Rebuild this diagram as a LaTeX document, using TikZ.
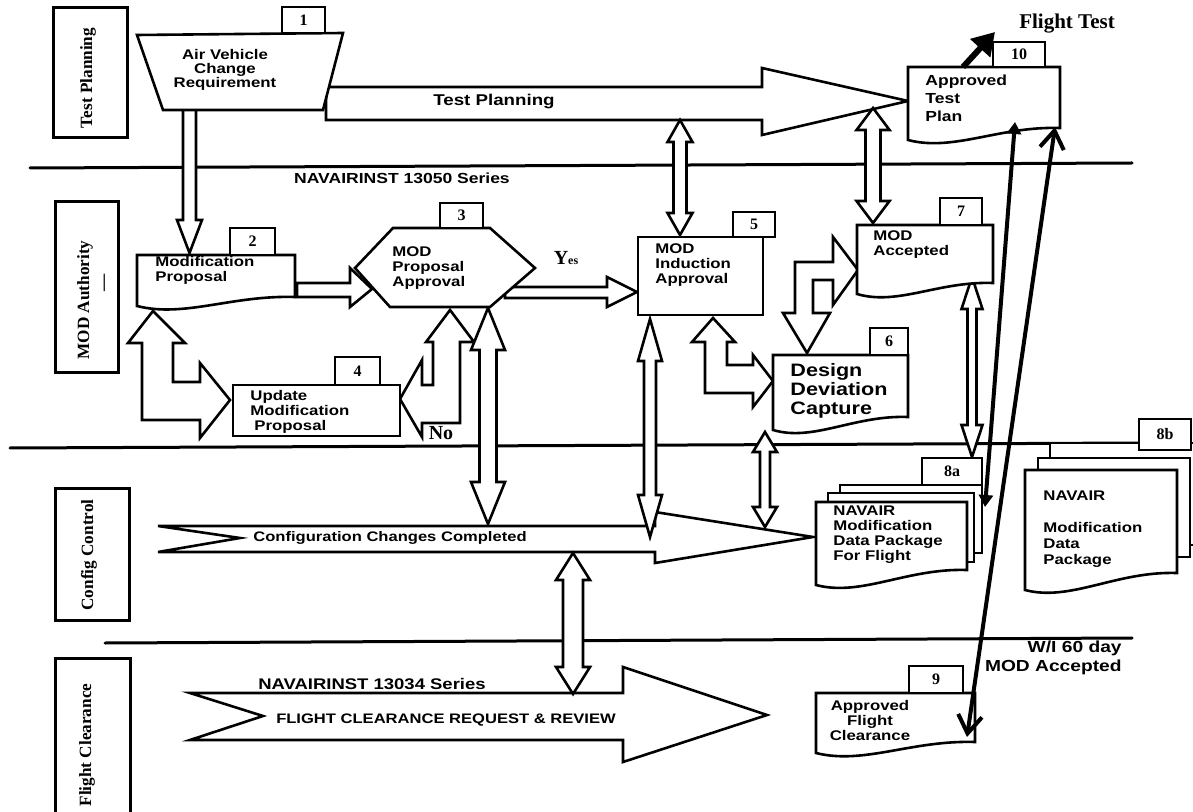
\documentclass[tikz,border=0pt]{standalone}
\usepackage{fontspec}
\setmainfont{Liberation Serif}
\newfontfamily\bxf[FakeStretch=1.2]{Liberation Sans}
\usetikzlibrary{arrows.meta}

\tikzset{
  ln/.style={line width=1.5pt, line cap=round},
  blk/.style={draw, line width=1.3pt, fill=white, line join=miter},
  doc/.style={draw, line width=1.3pt, fill=white},
  tabb/.style={draw, line width=1.3pt, fill=white},
  tabtxt/.style={font=\bfseries\fontsize{8}{8}\selectfont, inner sep=0pt},
  bt/.style={font=\bxf\bfseries\fontsize{7}{7.5}\selectfont, align=left, inner sep=0pt},
  lbl/.style={font=\bxf\bfseries\fontsize{7}{7}\selectfont, inner sep=0pt},
  lane/.style={font=\bfseries\fontsize{8.6}{9}\selectfont, rotate=90, inner sep=0pt},
  srf/.style={font=\bfseries\fontsize{10}{10}\selectfont, inner sep=0pt},
}

\newcommand\docbox[5]{% L T R yr yl
  \draw[doc] (#1,#2) -- (#3,#2) -- (#3,#4) .. controls ({#1+0.6*(#3-#1)},{#4-2}) and ({#1+0.3*(#3-#1)},{#5+12}) .. (#1,#5) -- cycle;}
\newcommand\tabbox[6]{%
  \draw[tabb] (#1,#2) rectangle (#3,#4);
  \node[tabtxt] (#5) at ({(#1+#3)/2},{(#2+#4)/2}) {#6};}
\newcommand\vdarr[6]{% x ytop ybot shafthalf headhalf headlen
  \draw[blk] (#1,#2) -- ({#1+#5},{#2+#6}) -- ({#1+#4},{#2+#6}) -- ({#1+#4},{#3-#6}) -- ({#1+#5},{#3-#6}) -- (#1,#3) -- ({#1-#5},{#3-#6}) -- ({#1-#4},{#3-#6}) -- ({#1-#4},{#2+#6}) -- ({#1-#5},{#2+#6}) -- cycle;}

\begin{document}
\begin{tikzpicture}[x=0.5pt,y=-0.5pt]
\useasboundingbox (0,0) rectangle (1193,812);
\fill[white] (0,0) rectangle (1193,812);

% ---------------- lane labels
\draw[ln] (53,8) rectangle (127,138);
\node[lane] (lTP) at (88,78) {Test Planning};
\draw[ln] (55,202) rectangle (118,373);
\node[lane] (lMA) at (85,300) {MOD Authority};
\node[lane] (lMAd) at (106,283) {—};
\draw[ln] (55,488) rectangle (129,620);
\node[lane] (lCC) at (89,555) {Config Control};
\draw[ln] (55,658) rectangle (130,830);
\node[lane] (lFC) at (87,745) {Flight Clearance};

% ---------------- lane lines
\draw[ln] (30,168) -- (1132,163);
\draw[ln] (10,448) -- (1139,443);
\draw[ln] (105,643) -- (1132,638);

% ---------------- big arrows
\draw[blk] (326,87) -- (762,87) -- (762,68) -- (908,101) -- (762,135) -- (762,120) -- (326,120) -- cycle;
\node[lbl, font=\bxf\bfseries\fontsize{7.8}{7.8}\selectfont] (tpl) at (494,102) {Test Planning};

\draw[blk] (158,526) -- (655,526) -- (655,512) -- (813,537) -- (655,563) -- (655,552) -- (158,552) -- (240,538) -- cycle;
\node[lbl, font=\bxf\bfseries\fontsize{6.9}{6.9}\selectfont] (ccc) at (390,538) {Configuration Changes Completed};

\draw[blk] (190,693) -- (623,693) -- (623,667) -- (767,715) -- (623,762) -- (623,740) -- (190,740) -- (263,716) -- cycle;
\node[lbl, font=\bxf\bfseries\fontsize{6.9}{6.9}\selectfont] (fcr) at (446,720) {FLIGHT CLEARANCE REQUEST \& REVIEW};
\node[lbl, font=\bxf\bfseries\fontsize{7.7}{7.7}\selectfont] (nav2) at (372,684) {NAVAIRINST 13034 Series};
\node[lbl, font=\bxf\bfseries\fontsize{7.3}{7.3}\selectfont] (nav1) at (402,178) {NAVAIRINST 13050 Series};

% ---------------- single block arrows
\draw[blk] (183,108) -- (183,220) -- (177,220) -- (189.5,253) -- (202,220) -- (196,220) -- (196,108) -- cycle;
\draw[blk] (297,283) -- (350,283) -- (350,268) -- (372,289) -- (350,307) -- (350,297) -- (297,297) -- cycle;
\draw[blk] (505,287) -- (607,287) -- (607,277) -- (637,292) -- (607,307) -- (607,298) -- (505,298) -- cycle;

% ---------------- elbow block arrows
\draw[blk] (153,311) -- (185,343) -- (173,343) -- (173,382) -- (200,382) -- (200,363) -- (230,400) -- (200,438) -- (200,420) -- (142,420) -- (142,343) -- (128,343) -- cycle;
\draw[blk] (450,310) -- (474,342) -- (460,342) -- (460,423) -- (422,423) -- (422,437) -- (400,399) -- (422,360) -- (422,385) -- (433,385) -- (433,342) -- (426,342) -- cycle;
\draw[blk] (713,318) -- (735,342) -- (727,342) -- (727,365) -- (753,365) -- (753,355) -- (773,381) -- (753,407) -- (753,393) -- (705,393) -- (705,342) -- (692,342) -- cycle;
\draw[blk] (858,270) -- (833,237) -- (833,262) -- (795,262) -- (795,313) -- (783,313) -- (807,353) -- (830,313) -- (813,313) -- (813,280) -- (833,280) -- (833,305) -- cycle;

% ---------------- vertical double block arrows
\vdarr{680}{120}{235}{6.5}{12.5}{22}
\vdarr{873}{108}{223}{7.5}{16.5}{22}
\vdarr{488}{308}{524}{8.5}{17}{42}
\vdarr{650}{319}{537}{6}{12}{42}
\vdarr{765}{432}{527}{5}{12}{20}
\vdarr{972}{277}{457}{4.5}{10.5}{32}
\vdarr{573}{553}{694}{10}{17}{27}

% ---------------- boxes
% 1
\draw[doc] (137,35) -- (343,33) -- (323,110) -- (163,110) -- cycle;
\tabbox{282}{7}{325}{33}{t1}{1}
\node[bt, align=center, font=\bxf\bfseries\fontsize{7}{7}\selectfont] (b1) at (225,70) {Air Vehicle\\Change\\Requirement};
% 2
\docbox{137}{255}{295}{297}{306}
\tabbox{230}{228}{275}{255}{t2}{2}
\node[bt, anchor=west] (b2) at (155,270) {Modification\\Proposal};
% 3
\draw[doc] (355,268) -- (393,228) -- (490,228) -- (535,268) -- (490,307) -- (390,307) -- cycle;
\tabbox{440}{203}{483}{228}{t3}{3}
\node[bt, anchor=west] (b3) at (392,268) {MOD\\Proposal\\Approval};
% 4
\draw[doc] (233,385) rectangle (400,436);
\tabbox{335}{357}{380}{385}{t4}{4}
\node[bt, anchor=west] (b4) at (250,412) {Update\\Modification\\\hspace{2pt}Proposal};
% 5
\draw[doc] (638,237) rectangle (763,315);
\tabbox{733}{212}{775}{237}{t5}{5}
\node[bt, anchor=west] (b5) at (655,265) {MOD\\Induction\\Approval};
% 6
\docbox{773}{355}{908}{417}{430}
\tabbox{870}{328}{908}{355}{t6}{6}
\node[bt, anchor=west, font=\bxf\bfseries\fontsize{9}{9.5}\selectfont] (b6) at (790,391) {Design\\Deviation\\Capture};
% 7
\docbox{857}{225}{993}{283}{294}
\tabbox{940}{198}{982}{225}{t7}{7}
\node[bt, anchor=west] (b7) at (873,245) {MOD\\Accepted};
% 10
\docbox{908}{67}{1060}{128}{140}
\tabbox{993}{42}{1045}{67}{t10}{10}
\node[bt, anchor=west, font=\bxf\bfseries\fontsize{7.3}{9}\selectfont] (b10) at (925,98) {Approved\\Test\\Plan};
% 8a
\draw[doc] (840,485) rectangle (982,553);
\draw[doc] (828,493) rectangle (974,562);
\docbox{816}{502}{967}{570}{585}
\tabbox{922}{458}{982}{485}{t8a}{8a}
\node[bt, anchor=west] (b8a) at (833,535) {NAVAIR\\Modification\\Data Package\\For Flight};
% 8b
\draw[doc] (1050,443) rectangle (1205,545);
\draw[doc] (1038,458) rectangle (1190,557);
\docbox{1025}{470}{1177}{573}{590}
\tabbox{1139}{419}{1191}{450}{t8b}{8b}
\node[bt, anchor=west, font=\bxf\bfseries\fontsize{7}{8}\selectfont] (b8b) at (1043,529) {NAVAIR\\[8pt]Modification\\Data\\Package};
% 9
\docbox{816}{693}{975}{742}{753}
\tabbox{909}{666}{963}{693}{t9}{9}
\node[bt, align=center] (b9) at (870,720) {Approved\\Flight\\Clearance};

% ---------------- free labels
\node[srf] (no) at (441,433) {No};
\node[srf] (yes) at (566,258) {Y{\fontsize{6}{6}\selectfont es}};
\node[srf, font=\bfseries\fontsize{10.5}{10.5}\selectfont] (ft) at (1067,24) {Flight Test};
\node[lbl, anchor=east, font=\bxf\bfseries\fontsize{8}{8}\selectfont] (wi) at (1122,648) {W/I 60 day};
\node[lbl, anchor=east, font=\bxf\bfseries\fontsize{8}{8}\selectfont] (moda) at (1122,667) {MOD Accepted};

% ---------------- thick line arrows
\coordinate (a1) at (985,507);
\coordinate (a2) at (1015,122);
\coordinate (c1) at (967,737);
\coordinate (c2) at (1055,127);
\coordinate (f1) at (963,67);
\coordinate (f2) at (995,32);
\draw[line width=2pt, {Triangle[length=6pt,width=7pt]}-{Triangle[length=6pt,width=7pt]}] (a1) -- (a2);
\draw[line width=2pt, {Straight Barb[length=9pt,width=12pt]}-{Straight Barb[length=9pt,width=12pt]}] (c1) -- (c2);
\draw[line width=3pt, -{Triangle[length=11pt,width=13pt]}] (f1) -- (f2);
\end{tikzpicture}
\end{document}
